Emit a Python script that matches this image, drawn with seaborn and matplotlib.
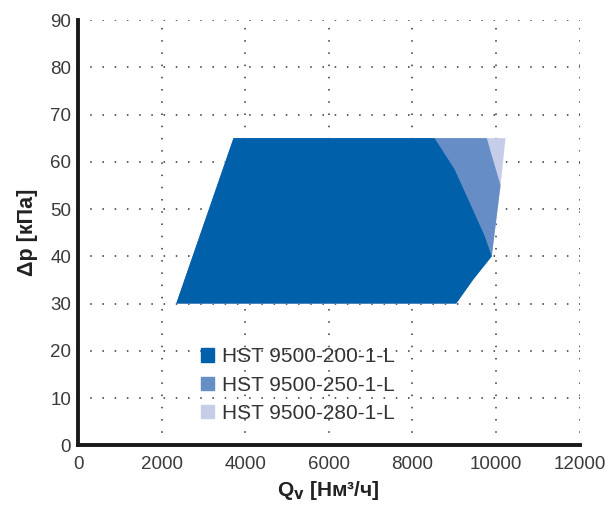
import matplotlib
matplotlib.use("Agg")
import matplotlib.pyplot as plt
import matplotlib.patches as mpatches
import seaborn as sns

# envelope points (Q, dp) for each model
labels = ["HST 9500-200-1-L", "HST 9500-250-1-L", "HST 9500-280-1-L"]
colors = ["#0060aa", "#678dc6", "#c5cde8"]

q_280 = [2350, 3720, 10230, 10110, 9900, 9450, 9050]
dp_280 = [30, 65, 65, 55, 40, 35, 30]

q_250 = [2350, 3720, 9780, 10110, 9900, 9450, 9050]
dp_250 = [30, 65, 65, 55, 40, 35, 30]

q_200 = [2350, 3720, 8530, 9010, 9410, 9730, 9900, 9450, 9050]
dp_200 = [30, 65, 65, 58.4, 50.6, 44.3, 40, 35, 30]

x_ticks = [0, 2000, 4000, 6000, 8000, 10000, 12000]
y_ticks = [0, 10, 20, 30, 40, 50, 60, 70, 80, 90]


def main():
    sns.set_theme(style="white")
    plt.rcParams["font.family"] = ["Liberation Sans", "DejaVu Sans"]

    fig = plt.figure(figsize=(6.1, 5.13), dpi=100)
    ax = fig.add_axes([0.128, 0.132, 0.822, 0.829])

    ax.fill(q_280, dp_280, color=colors[2], lw=0, zorder=2)
    ax.fill(q_250, dp_250, color=colors[1], lw=0, zorder=3)
    ax.fill(q_200, dp_200, color=colors[0], lw=0, zorder=4)

    ax.set_xlim(0, 12000)
    ax.set_ylim(0, 90)
    ax.set_xticks(x_ticks)
    ax.set_yticks(y_ticks)
    ax.grid(True, color="#333333", linestyle=(0, (1, 7)), linewidth=1.1, zorder=1)
    ax.set_axisbelow(True)

    for side in ["top", "right"]:
        ax.spines[side].set_visible(False)
    for side in ["left", "bottom"]:
        ax.spines[side].set_color("#1a1a1a")
        ax.spines[side].set_linewidth(2.8)

    ax.tick_params(axis="both", labelsize=13.5, labelcolor="#3a3a3a",
                   direction="in", length=3, width=1, color="#111111")
    ax.tick_params(axis="x", pad=8)
    ax.tick_params(axis="y", pad=5)

    ax.set_xlabel("Q$_\\mathbf{v}$ [Нм³/ч]", fontsize=15, fontweight="bold",
                  color="#222222", labelpad=4)
    ax.set_ylabel("Δp [кПа]", fontsize=15.5, fontweight="bold",
                  color="#222222", labelpad=9)

    handles = [mpatches.Patch(color=c, label=l) for c, l in zip(colors, labels)]
    ax.legend(handles=handles, loc="upper left", bbox_to_anchor=(0.228, 0.25),
              frameon=False, fontsize=15, handlelength=0.62,
              handleheight=0.62, handletextpad=0.4, labelspacing=0.45,
              labelcolor="#333333", borderaxespad=0)

    fig.savefig("out.png", dpi=100)
    plt.close(fig)


if __name__ == "__main__":
    main()
